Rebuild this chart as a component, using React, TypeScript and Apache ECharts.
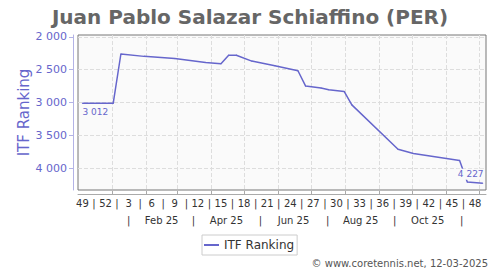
import React, { useEffect, useRef } from "react";
import * as echarts from "echarts";

// Ranking points (dates of the weekly ranking, rank value)
const pointDates = [
  "2024-12-05", "2025-01-02", "2025-01-09", "2025-01-30", "2025-02-27",
  "2025-03-27", "2025-04-10", "2025-04-17", "2025-04-24", "2025-05-08",
  "2025-05-29", "2025-06-19", "2025-06-26", "2025-07-10", "2025-07-17",
  "2025-07-31", "2025-08-07", "2025-09-18", "2025-10-02", "2025-11-13",
  "2025-11-20", "2025-12-04",
];
const ranks = [
  3012, 3012, 2262, 2298, 2332,
  2390, 2410, 2280, 2280, 2370,
  2440, 2517, 2750, 2780, 2806,
  2832, 3035, 3710, 3775, 3880,
  4210, 4227,
];

// Week-number tick labels
const weekLabels = ["49", "52", "3", "6", "9", "12", "15", "18", "21", "24", "27", "30", "33", "36", "39", "42", "45", "48"];
const weekLabelDates = [
  "2024-12-05", "2024-12-26", "2025-01-16", "2025-02-06", "2025-02-27", "2025-03-20",
  "2025-04-10", "2025-05-01", "2025-05-22", "2025-06-12", "2025-07-03", "2025-07-24",
  "2025-08-14", "2025-09-04", "2025-09-25", "2025-10-16", "2025-11-06", "2025-11-27",
];
// Month row labels
const monthLabels = ["Feb 25", "Apr 25", "Jun 25", "Aug 25", "Oct 25"];
const monthLabelDates = ["2025-02-15", "2025-04-15", "2025-06-15", "2025-08-15", "2025-10-15"];
const monthSeparatorDates = ["2025-01-16", "2025-03-16", "2025-05-16", "2025-07-16", "2025-09-15", "2025-11-15"];
const monthStartDates = [
  "2025-01-01", "2025-02-01", "2025-03-01", "2025-04-01", "2025-05-01", "2025-06-01",
  "2025-07-01", "2025-08-01", "2025-09-01", "2025-10-01", "2025-11-01", "2025-12-01",
];
const xStartDate = "2024-12-01";
const xEndDate = "2025-12-07";

const yTicks = [2000, 2500, 3000, 3500, 4000];
const yMin = 1973;
const yMax = 4330;

const SERIES_NAME = "ITF Ranking";
const FONT = "DejaVu Sans";

const BASE = Date.parse("2025-01-01");
const day = (s: string) => (Date.parse(s) - BASE) / 86400000;
const fmt = (v: number) => String(Math.round(v)).replace(/\B(?=(\d{3})+(?!\d))/g, " ");
const key = (v: number) => Number(v).toFixed(2);

export default function App() {
  const ref = useRef<HTMLDivElement>(null);

  useEffect(() => {
    if (!ref.current) return;
    const chart = echarts.init(ref.current, null, { renderer: "svg" });

    const weekPos = weekLabelDates.map(day);
    const sepPos = weekPos.slice(1).map((p, i) => (p + weekPos[i]) / 2);
    const weekMap = new Map<string, string>();
    weekPos.forEach((p, i) => weekMap.set(key(p), weekLabels[i]));
    sepPos.forEach((p) => weekMap.set(key(p), "|"));

    const monthPos = monthLabelDates.map(day);
    const monthSepPos = monthSeparatorDates.map(day);
    const monthMap = new Map<string, string>();
    monthPos.forEach((p, i) => monthMap.set(key(p), monthLabels[i]));
    monthSepPos.forEach((p) => monthMap.set(key(p), "|"));

    const lineColor = "#6666cc";
    const n = pointDates.length;
    const data = pointDates.map((d, i) => {
      const item: any = { value: [day(d), ranks[i]] };
      if (i === 0) {
        item.label = {
          show: true, position: "bottom", distance: 4, offset: [13, 0],
          formatter: (p: any) => fmt(p.value[1]), fontSize: 9, color: lineColor, fontFamily: FONT,
        };
      } else if (i === n - 1) {
        item.label = {
          show: true, position: "top", distance: 4, offset: [-12, 1],
          formatter: (p: any) => fmt(p.value[1]), fontSize: 9, color: lineColor, fontFamily: FONT,
          backgroundColor: "#fafafa", padding: [1, 1],
        };
      }
      return item;
    });

    const xMin = day(xStartDate);
    const xMax = day(xEndDate);

    chart.setOption({
      animation: false,
      title: {
        text: "Juan Pablo Salazar Schiaffino (PER)",
        left: "center",
        top: 2,
        textStyle: { fontFamily: FONT, fontSize: 20, fontWeight: "bold", color: "#666666" },
      },
      legend: {
        data: [SERIES_NAME],
        left: 202,
        top: 235,
        padding: [4, 3, 4, 2],
        backgroundColor: "#ffffff",
        borderColor: "#cccccc",
        borderWidth: 1,
        icon: "rect",
        itemWidth: 15,
        itemHeight: 2,
        textStyle: { fontFamily: FONT, fontSize: 12, color: "#333333" },
      },
      graphic: [
        {
          type: "text",
          right: 12,
          top: 258,
          style: { text: "© www.coretennis.net, 12-03-2025", fontFamily: FONT, fontSize: 10, fill: "#555555" },
        },
      ],
      grid: {
        left: 78, top: 35, right: 14, bottom: 80,
        show: true, backgroundColor: "#fafafa", borderColor: "#777777", borderWidth: 1,
      },
      xAxis: [
        {
          type: "value", min: xMin, max: xMax, position: "bottom", offset: 4,
          axisLine: { show: true, onZero: false, lineStyle: { color: "#aaaaaa" } },
          axisTick: { show: true, inside: true, length: 3, customValues: monthStartDates.map(day), lineStyle: { color: "#aaaaaa" } },
          axisLabel: {
            customValues: [...weekPos, ...sepPos],
            formatter: (v: number) => weekMap.get(key(v)) ?? "",
            fontFamily: FONT, fontSize: 10, color: "#333333", margin: 4,
          },
          splitLine: { show: true, lineStyle: { color: "#dddddd", type: "dashed" } },
        },
        {
          type: "value", min: xMin, max: xMax, position: "bottom", offset: 4,
          axisLine: { show: false, onZero: false }, axisTick: { show: false }, splitLine: { show: false },
          axisLabel: {
            customValues: [...monthPos, ...monthSepPos],
            formatter: (v: number) => monthMap.get(key(v)) ?? "",
            fontFamily: FONT, fontSize: 10, color: "#333333", margin: 21,
          },
        },
      ],
      yAxis: {
        type: "value", inverse: true, min: yMin, max: yMax, position: "left", offset: 5,
        name: "ITF Ranking", nameLocation: "middle", nameGap: 42, nameMoveOverlap: false,
        nameTextStyle: { fontFamily: FONT, fontSize: 15, color: lineColor },
        axisLine: { show: true, onZero: false, lineStyle: { color: "#b3b3e6" } },
        axisTick: { show: true, length: 4, customValues: yTicks, lineStyle: { color: "#b3b3e6" } },
        axisLabel: { customValues: yTicks, formatter: (v: number) => fmt(v), fontFamily: FONT, fontSize: 11, color: lineColor, margin: 6 },
        splitLine: { show: true, lineStyle: { color: "#dddddd", type: "dashed" } },
      },
      series: [
        {
          name: SERIES_NAME,
          type: "line",
          data,
          showSymbol: true,
          symbol: "circle",
          symbolSize: 1,
          itemStyle: { color: lineColor },
          lineStyle: { color: lineColor, width: 1.5 },
        },
      ],
    });

    return () => chart.dispose();
  }, []);

  return <div ref={ref} style={{ position: "absolute", left: 0, top: 0, width: 500, height: 270 }} />;
}
